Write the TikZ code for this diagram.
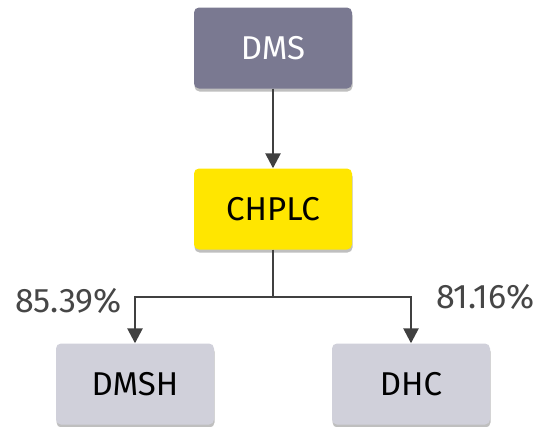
\documentclass[tikz,border=0pt]{standalone}
\usepackage{fontspec}
\setmainfont{Fira Sans}
\usetikzlibrary{arrows.meta,shadows}
\definecolor{topfill}{RGB}{122,121,145}
\definecolor{eyyellow}{RGB}{255,230,0}
\definecolor{subfill}{RGB}{208,208,218}
\definecolor{linegray}{RGB}{64,64,64}
\definecolor{pctgray}{RGB}{70,70,70}
\tikzset{
  entity/.style={rectangle, rounded corners=5pt, minimum width=158pt, minimum height=81pt,
    font=\fontsize{33}{36}\selectfont,
    drop shadow={shadow xshift=0.5pt, shadow yshift=-3pt, opacity=0.25, fill=black}},
  link/.style={draw=linegray, line width=2.6pt, -{Triangle[length=15pt,width=15pt]}},
  pct/.style={font=\fontsize{34}{38}\selectfont, text=pctgray}
}
\begin{document}
\begin{tikzpicture}[x=1pt,y=-1pt]
  \useasboundingbox (0,0) rectangle (549,426);
  \node[entity, fill=topfill, text=white] (dms) at (273,48) {DMS};
  \node[entity, fill=eyyellow, text=black] (chplc) at (273,209) {CHPLC};
  \node[entity, fill=subfill, text=black] (dmsh) at (135,384) {DMSH};
  \node[entity, fill=subfill, text=black] (dhc) at (411,384) {DHC};
  \coordinate (split) at (273,297);
  \draw[link] (dms) -- (chplc);
  \draw[link] (chplc.south) -- (split) -| (dmsh.north);
  \draw[link] (split) -| (dhc.north);
  \node[pct, anchor=east, inner sep=0pt] (pa) at (122,301) {85.39\%};
  \node[pct, anchor=west, inner sep=0pt] (pb) at (436,297) {81.16\%};
\end{tikzpicture}
\end{document}
